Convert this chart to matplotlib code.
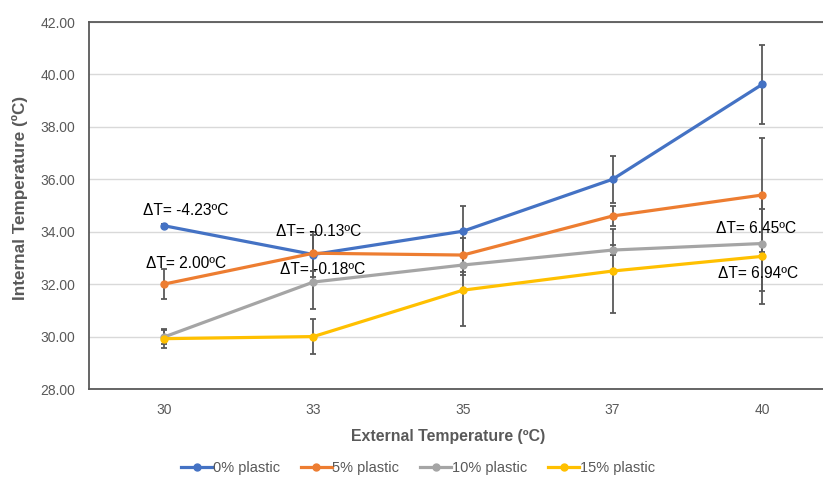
import matplotlib
matplotlib.use("Agg")
import matplotlib.pyplot as plt
import numpy as np

plt.rcParams['font.family'] = ['Liberation Sans', 'DejaVu Sans']

categories = ["30", "33", "35", "37", "40"]
series_names = ["0% plastic", "5% plastic", "10% plastic", "15% plastic"]
colors = ["#4472C4", "#ED7D31", "#A5A5A5", "#FFC000"]

vals_0 = [34.23, 33.13, 34.02, 36.00, 39.62]
vals_5 = [32.00, 33.18, 33.11, 34.60, 35.40]
vals_10 = [29.98, 32.08, 32.73, 33.30, 33.55]
vals_15 = [29.92, 30.00, 31.77, 32.50, 33.06]

err_0 = [0.05, 0.85, 0.98, 0.89, 1.51]
err_5 = [0.57, 0.69, 0.65, 0.38, 2.19]
err_10 = [0.28, 1.03, 0.40, 0.19, 1.80]
err_15 = [0.36, 0.67, 1.36, 1.59, 1.80]

y_ticks = [28, 30, 32, 34, 36, 38, 40, 42]

# annotations: (series index, category index, text, offset pixels)
labels_text = ["ΔT= -4.23ºC", "ΔT= 2.00ºC", "ΔT= -0.13ºC", "ΔT= -0.18ºC", "ΔT= 6.45ºC", "ΔT= 6.94ºC"]
labels_series = [0, 1, 0, 1, 2, 3]
labels_cat = [0, 0, 1, 1, 4, 4]
labels_off = [(22, 15), (22, 21), (5, 23), (9, -16), (-6, 15), (-4, -17)]

all_vals = [vals_0, vals_5, vals_10, vals_15]
all_errs = [err_0, err_5, err_10, err_15]

fig = plt.figure(figsize=(8.23, 4.79), dpi=100)
ax = fig.add_axes([89/823, 90/479, (837-89)/823, 367/479])

x = np.arange(len(categories))
text_gray = "#595959"

for vals, errs in zip(all_vals, all_errs):
    ax.errorbar(x, vals, yerr=errs, fmt='none', ecolor="#595959", elinewidth=1.3,
                capsize=2.5, capthick=1.3, zorder=2)

handles = []
for vals, name, c in zip(all_vals, series_names, colors):
    h, = ax.plot(x, vals, color=c, lw=2.3, marker='o', markersize=5, label=name, zorder=3)
    handles.append(h)

for t, s, ci, off in zip(labels_text, labels_series, labels_cat, labels_off):
    ax.annotate(t, xy=(x[ci], all_vals[s][ci]), xytext=off, textcoords='offset pixels',
                ha='center', va='center', fontsize=11.2, color='black', zorder=5)

ax.set_xlim(-0.5, len(categories) - 0.5)
ax.set_ylim(28, 42)
ax.set_yticks(y_ticks)
ax.set_yticklabels([f"{v:.2f}" for v in y_ticks])
ax.set_xticks(x)
ax.set_xticklabels(categories)
ax.tick_params(axis='both', length=0, labelsize=10, colors=text_gray)
ax.tick_params(axis='y', pad=10)
ax.tick_params(axis='x', pad=10)
ax.grid(axis='y', color="#D9D9D9", lw=1, zorder=0)
ax.set_axisbelow(True)
for side in ['left', 'bottom', 'top']:
    ax.spines[side].set_color("#595959")
    ax.spines[side].set_linewidth(1.3)
ax.spines['right'].set_visible(False)

fig.text(448/823, 1 - 436/479, "External Temperature (ºC)", ha='center', va='center',
         fontsize=11.4, fontweight='bold', color=text_gray)
fig.text(20/823, 1 - 198/479, "Internal Temperature (ºC)", ha='center', va='center',
         rotation=90, fontsize=12.3, fontweight='bold', color=text_gray)

fig.legend(handles=handles, loc='center', bbox_to_anchor=(418/823, 1 - 468/479), ncol=4,
           frameon=False, fontsize=10.5, handlelength=2.1, handletextpad=0.05,
           columnspacing=1.45, labelcolor=text_gray)

fig.savefig("out.png", dpi=100)
